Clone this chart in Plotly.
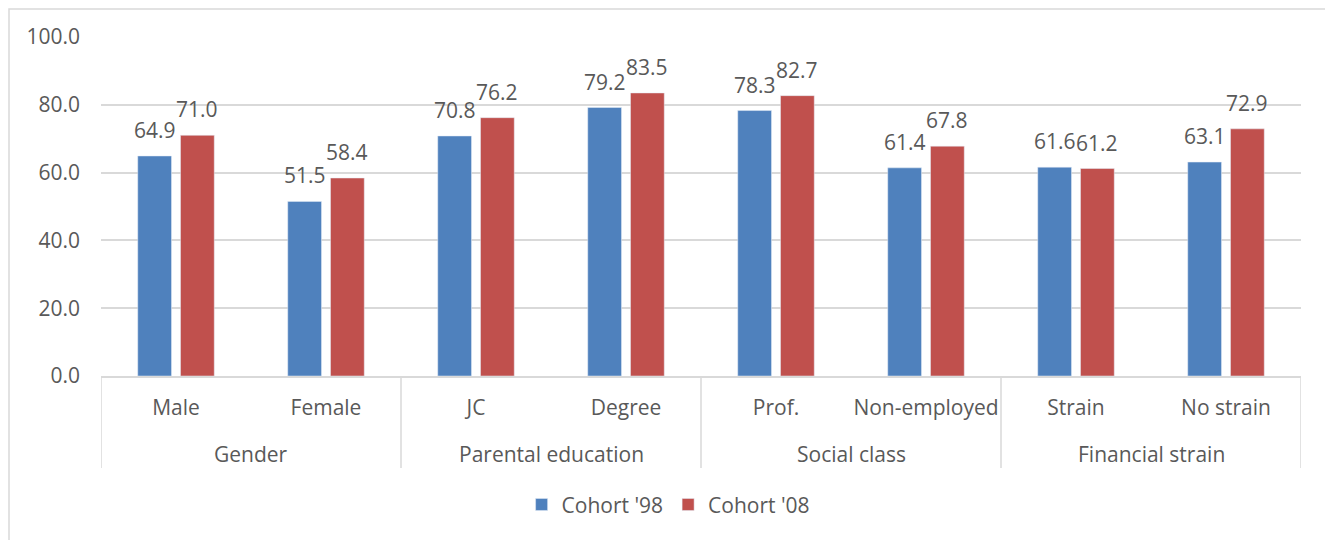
import plotly.graph_objects as go

# categories
groups = ["Gender", "Parental education", "Social class", "Financial strain"]
categories = ["Male", "Female", "JC", "Degree", "Prof.", "Non-employed", "Strain", "No strain"]
# series values
cohort_98 = [64.9, 51.5, 70.8, 79.2, 78.3, 61.4, 61.6, 63.1]
cohort_08 = [71.0, 58.4, 76.2, 83.5, 82.7, 67.8, 61.2, 72.9]
y_ticks = [0, 20, 40, 60, 80, 100]

BLUE = "#4F81BD"
RED = "#C0504D"
TEXT = "#595959"
GRID = "#D9D9D9"
FONT = "Open Sans"
FS = 21

BAR_W = 0.225
OFFSETS = {"98": -0.255, "08": 0.03}

# plot area in figure pixels (page adds 8px body margin)
L, R, T, B = 93, 40, 29, 172
W_PLOT = 1333 - L - R
H_PLOT = 540 - T - B

x = list(range(len(categories)))

fig = go.Figure()
fig.add_trace(go.Bar(x=x, y=cohort_98, name="Cohort '98", marker_color=BLUE,
                     width=BAR_W, offset=OFFSETS["98"]))
fig.add_trace(go.Bar(x=x, y=cohort_08, name="Cohort '08", marker_color=RED,
                     width=BAR_W, offset=OFFSETS["08"]))

# data labels above the bars
annotations = []
for key, vals in (("98", cohort_98), ("08", cohort_08)):
    for xi, v in zip(x, vals):
        annotations.append(dict(x=xi + OFFSETS[key] + BAR_W / 2, y=v, xref="x", yref="y",
                                text=f"{v:.1f}", showarrow=False, yanchor="middle",
                                yshift=26, font=dict(size=FS, color=TEXT, family=FONT)))

# group labels under the category labels
n_per = len(categories) // len(groups)
for gi, g in enumerate(groups):
    annotations.append(dict(x=gi * n_per + (n_per - 1) / 2, y=0, xref="x", yref="y",
                            text=g, showarrow=False, yanchor="middle", yshift=-78,
                            font=dict(size=FS, color=TEXT, family=FONT)))

# group dividers and chart border
shapes = []
for gi in range(len(groups) + 1):
    shapes.append(dict(type="line", xref="x", yref="paper", x0=gi * n_per - 0.5,
                       x1=gi * n_per - 0.5, y0=0, y1=-92 / H_PLOT,
                       line=dict(color=GRID, width=1.5)))
shapes.append(dict(type="rect", xref="paper", yref="paper",
                   x0=(1 - L) / W_PLOT, x1=(1322 - L) / W_PLOT,
                   y0=-(B + 20) / H_PLOT, y1=(T - 1) / H_PLOT + 1,
                   line=dict(color=GRID, width=1.5), fillcolor="rgba(0,0,0,0)", layer="below"))

fig.update_layout(
    width=1333, height=540,
    margin=dict(l=L, r=R, t=T, b=B),
    paper_bgcolor="white", plot_bgcolor="white",
    barmode="overlay",
    font=dict(family=FONT, size=FS, color=TEXT),
    showlegend=True,
    legend=dict(orientation="h", x=0.473, xanchor="center", y=-0.38, yanchor="middle",
                font=dict(size=FS, color=TEXT, family=FONT), itemwidth=30,
                traceorder="normal"),
    annotations=annotations,
    shapes=shapes,
)
fig.update_xaxes(range=[-0.5, len(categories) - 0.5], tickvals=x, ticktext=categories,
                 showgrid=False, showline=True, linecolor=GRID, linewidth=1.5,
                 ticks="", ticklabelstandoff=12, tickfont=dict(size=FS, color=TEXT),
                 zeroline=False)
fig.update_yaxes(range=[0, 100], tickvals=y_ticks, tickformat=".1f",
                 showgrid=True, gridcolor=GRID, gridwidth=1.5, zeroline=False,
                 showline=False, ticks="", ticklabelstandoff=20,
                 tickfont=dict(size=FS, color=TEXT))

fig.write_html("out.html")
